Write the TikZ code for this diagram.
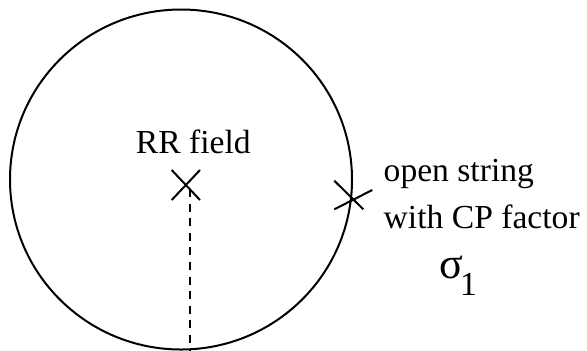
\documentclass[tikz,border=0pt]{standalone}
\usepackage{fontspec}
\setmainfont{Liberation Serif}
\usetikzlibrary{calc}
\begin{document}
\begin{tikzpicture}[x=0.5pt,y=-0.5pt,
  stroke/.style={line width=1pt},
  cut/.style={line width=0.6pt,dash pattern=on 4pt off 3.3pt},
  lbl/.style={inner sep=0pt,font=\fontsize{16.8}{20}\selectfont}]
\useasboundingbox (0,0) rectangle (587,350);
% disc boundary
\coordinate (c) at (181,179.5);
\draw[stroke] (c) circle [x radius=171, y radius=170];
% RR field insertion
\coordinate (rr) at (186,185);
\draw[stroke] ($(rr)+(-14.3,-15)$) -- ($(rr)+(14,15)$);
\draw[stroke] ($(rr)+(-14.3,15)$) -- ($(rr)+(14,-15)$);
\node[lbl,anchor=base] (rrlab) at (193.3,153) {RR field};
% dashed cut
\coordinate (cuttop) at (190,189);
\coordinate (cutbot) at (190,350);
\draw[cut] (cuttop) -- (cutbot);
% open string insertion on boundary
\coordinate (os) at (352,199);
\draw[stroke] ($(os)+(-17.7,-18.3)$) -- ($(os)+(11.3,10.3)$);
\draw[stroke] ($(os)+(-17.7,10.3)$) -- ($(os)+(20.3,-9)$);
\node[lbl,anchor=base west] (l1) at (383.3,181.7) {open string};
\node[lbl,anchor=base west] (l2) at (383.3,228.3) {with CP factor};
\node[lbl,anchor=base west] (sig) at (439,278.3)
  {{\fontsize{22}{24}\selectfont σ}\kern-1.5pt\raisebox{-8.5pt}{1}};
\end{tikzpicture}
\end{document}
